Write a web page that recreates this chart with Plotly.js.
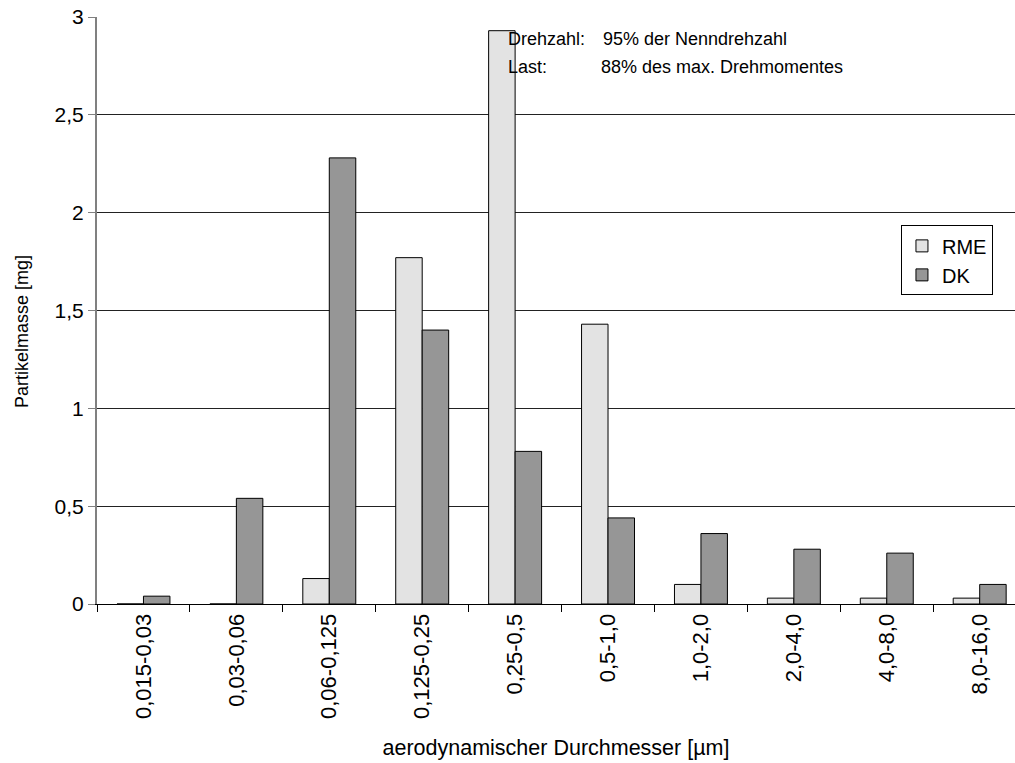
<!DOCTYPE html>
<html>
<head>
<meta charset="utf-8">
<script src="https://cdn.plot.ly/plotly-3.0.1.min.js"></script>
<style>html,body{margin:0;padding:0;background:#fff;}#chart{width:1015px;height:763px;}</style>
</head>
<body>
<div id="chart"></div>
<script>
var categories = ["0,015-0,03","0,03-0,06","0,06-0,125","0,125-0,25","0,25-0,5","0,5-1,0","1,0-2,0","2,0-4,0","4,0-8,0","8,0-16,0"];
var rmeValues = [0, 0, 0.13, 1.77, 2.93, 1.43, 0.10, 0.03, 0.03, 0.03];
var dkValues  = [0.04, 0.54, 2.28, 1.40, 0.78, 0.44, 0.36, 0.28, 0.26, 0.10];
var yTickVals = [0, 0.5, 1, 1.5, 2, 2.5, 3];
var seriesNames = ["RME", "DK"];

var FONT = "Liberation Sans, Arial, sans-serif";

var traces = [
  {type: "bar", name: seriesNames[0], x: categories, y: rmeValues,
   marker: {color: "#E3E3E3", line: {color: "#000", width: 1}}},
  {type: "bar", name: seriesNames[1], x: categories, y: dkValues,
   marker: {color: "#969696", line: {color: "#000", width: 1}}}
];

var layout = {
  width: 1015, height: 763,
  margin: {l: 97, r: 0, t: 17, b: 159, pad: 0},
  paper_bgcolor: "#fff", plot_bgcolor: "#fff",
  separators: ", ",
  barmode: "group", bargap: 0.43, bargroupgap: 0,
  font: {family: FONT, color: "#000", size: 18},
  showlegend: true,
  legend: {
    x: 0.976, xanchor: "right", y: 0.645, yanchor: "top",
    bgcolor: "#fff", bordercolor: "#000", borderwidth: 1,
    font: {family: FONT, size: 20, color: "#000"},
    itemwidth: 30, traceorder: "normal"
  },
  xaxis: {
    type: "category",
    range: [-0.5, 9.38],
    tickangle: -90,
    tickson: "boundaries",
    ticks: "outside", ticklen: 7, tickcolor: "#000", tickwidth: 1,
    showline: true, linecolor: "#000", linewidth: 1,
    showgrid: false, zeroline: false,
    tickfont: {family: FONT, size: 22, color: "#000"},
    title: {text: "aerodynamischer Durchmesser [µm]", font: {family: FONT, size: 21.5, color: "#000"}, standoff: 21},
    fixedrange: true
  },
  yaxis: {
    range: [0, 3],
    tickvals: yTickVals,
    ticks: "outside", ticklen: 7, tickcolor: "#808080", tickwidth: 1,
    showline: true, linecolor: "#808080", linewidth: 2,
    showgrid: true, gridcolor: "#222", gridwidth: 1,
    zeroline: false,
    tickfont: {family: FONT, size: 21, color: "#000"},
    fixedrange: true
  },
  annotations: [
    {xref: "paper", yref: "paper", x: -0.0817, y: 0.465, xanchor: "center", yanchor: "middle",
     text: "Partikelmasse [mg]", textangle: -90, showarrow: false,
     font: {family: FONT, size: 18, color: "#000"}},
    {xref: "paper", yref: "paper", x: 0.4455, y: 0.963, xanchor: "left", yanchor: "middle",
     text: "Drehzahl:", showarrow: false, font: {family: FONT, size: 18, color: "#000"}},
    {xref: "paper", yref: "paper", x: 0.5493, y: 0.963, xanchor: "left", yanchor: "middle",
     text: "95% der Nenndrehzahl", showarrow: false, font: {family: FONT, size: 18, color: "#000"}},
    {xref: "paper", yref: "paper", x: 0.4455, y: 0.9153, xanchor: "left", yanchor: "middle",
     text: "Last:", showarrow: false, font: {family: FONT, size: 18, color: "#000"}},
    {xref: "paper", yref: "paper", x: 0.5463, y: 0.9153, xanchor: "left", yanchor: "middle",
     text: "88% des max. Drehmomentes", showarrow: false, font: {family: FONT, size: 18, color: "#000"}}
  ]
};

Plotly.newPlot("chart", traces, layout, {displayModeBar: false, staticPlot: true});
</script>
</body>
</html>
